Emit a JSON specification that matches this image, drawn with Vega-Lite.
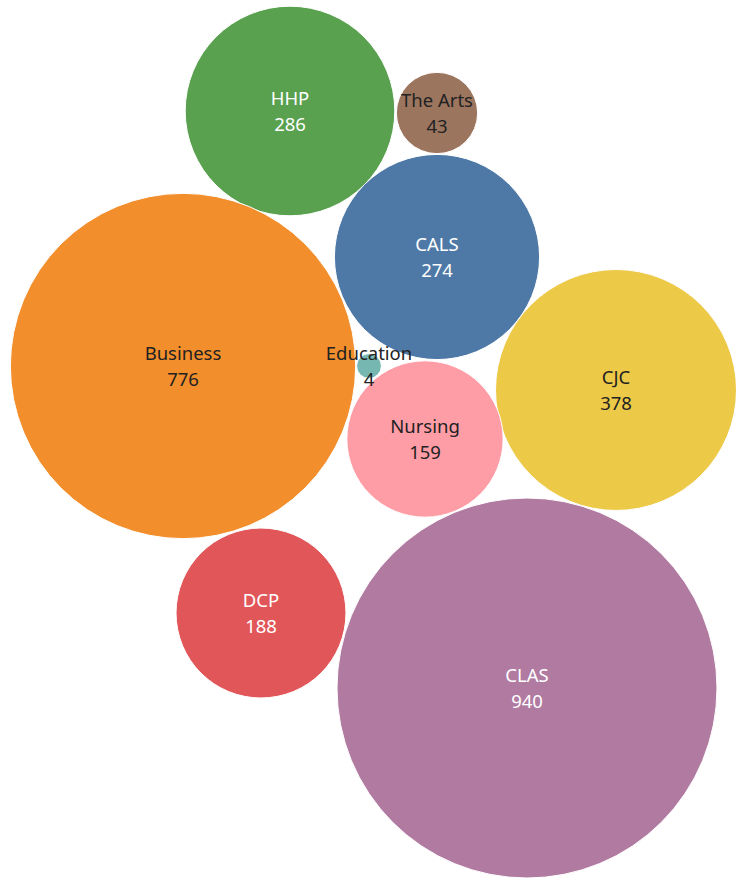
{
  "$schema": "https://vega.github.io/schema/vega-lite/v6.json",
  "width": 736,
  "height": 879,
  "padding": 0,
  "autosize": {"type": "none"},
  "background": "white",
  "config": {"view": {"stroke": null}},
  "data": {
    "values": [
      {"college": "HHP", "count": 286, "px": 290, "py": 111, "light": true},
      {"college": "The Arts", "count": 43, "px": 437, "py": 113, "light": false},
      {"college": "CALS", "count": 274, "px": 437, "py": 257, "light": true},
      {"college": "Business", "count": 776, "px": 183, "py": 366, "light": false},
      {"college": "Education", "count": 4, "px": 369, "py": 366, "light": false},
      {"college": "CJC", "count": 378, "px": 616, "py": 390, "light": false},
      {"college": "Nursing", "count": 159, "px": 425, "py": 439, "light": false},
      {"college": "DCP", "count": 188, "px": 261, "py": 613, "light": true},
      {"college": "CLAS", "count": 940, "px": 527, "py": 688, "light": true}
    ]
  },
  "encoding": {
    "x": {"field": "px", "type": "quantitative", "scale": {"domain": [0, 736], "nice": false, "zero": false}, "axis": null},
    "y": {"field": "py", "type": "quantitative", "scale": {"domain": [0, 879], "nice": false, "zero": false, "reverse": true}, "axis": null}
  },
  "layer": [
    {
      "mark": {"type": "circle", "opacity": 1, "stroke": "white", "strokeWidth": 1},
      "encoding": {
        "size": {"field": "count", "type": "quantitative", "scale": {"domain": [0, 940], "range": [0, 144400], "zero": true}, "legend": null},
        "color": {
          "field": "college", "type": "nominal", "legend": null,
          "scale": {
            "domain": ["CALS", "Business", "HHP", "DCP", "Education", "CJC", "CLAS", "Nursing", "The Arts"],
            "range": ["#4e79a7", "#f28e2b", "#59a14f", "#e15759", "#76b7b2", "#edc948", "#b07aa1", "#ff9da7", "#9c755f"]
          }
        }
      }
    },
    {
      "mark": {"type": "text", "font": "Noto Sans", "fontSize": 18.5, "baseline": "alphabetic", "align": "center", "dy": -6},
      "encoding": {
        "text": {"field": "college", "type": "nominal"},
        "color": {"condition": {"test": "datum.light", "value": "#ffffff"}, "value": "#222222"}
      }
    },
    {
      "mark": {"type": "text", "font": "Noto Sans", "fontSize": 18.5, "baseline": "alphabetic", "align": "center", "dy": 20},
      "encoding": {
        "text": {"field": "count", "type": "quantitative"},
        "color": {"condition": {"test": "datum.light", "value": "#ffffff"}, "value": "#222222"}
      }
    }
  ]
}
